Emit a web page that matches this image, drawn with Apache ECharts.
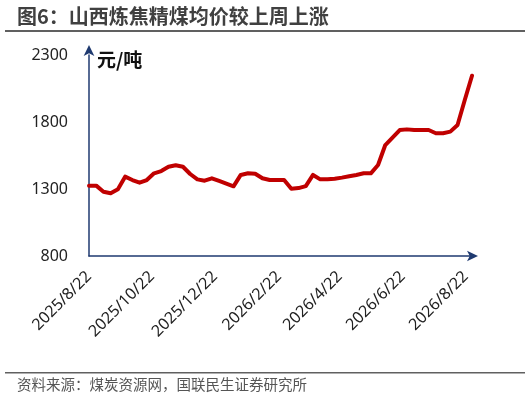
<!DOCTYPE html>
<html><head><meta charset="utf-8">
<script src="https://cdn.jsdelivr.net/npm/echarts@6/dist/echarts.min.js"></script>
<style>html,body{margin:0;padding:0;background:#fff}#c{width:532px;height:400px}</style>
</head><body><div id="c"></div>
<script>
const weekDates = ['2025/8/22','2025/8/29','2025/9/5','2025/9/12','2025/9/19','2025/9/26','2025/10/3','2025/10/10','2025/10/17','2025/10/24','2025/10/31','2025/11/7','2025/11/14','2025/11/21','2025/11/28','2025/12/5','2025/12/12','2025/12/19','2025/12/26','2026/1/2','2026/1/9','2026/1/16','2026/1/23','2026/1/30','2026/2/6','2026/2/13','2026/2/20','2026/2/27','2026/3/6','2026/3/13','2026/3/20','2026/3/27','2026/4/3','2026/4/10','2026/4/17','2026/4/24','2026/5/1','2026/5/8','2026/5/15','2026/5/22','2026/5/29','2026/6/5','2026/6/12','2026/6/19','2026/6/26','2026/7/3','2026/7/10','2026/7/17','2026/7/24','2026/7/31','2026/8/7','2026/8/14','2026/8/21','2026/8/28'];
const prices = [1325,1325,1280,1268,1298,1392,1367,1347,1367,1417,1434,1466,1477,1466,1412,1372,1362,1380,1360,1340,1320,1405,1417,1414,1380,1367,1367,1367,1302,1307,1322,1405,1372,1372,1377,1385,1395,1405,1417,1417,1479,1628,1683,1740,1745,1740,1740,1740,1716,1716,1728,1778,1964,2145];
const tickLabels = ['2025/8/22','2025/10/22','2025/12/22','2026/2/22','2026/4/22','2026/6/22','2026/8/22'];
const yTicks = [800,1300,1800,2300];

// daily category axis spanning the weekly data
function fmt(d){return d.getFullYear()+'/'+(d.getMonth()+1)+'/'+d.getDate();}
const days = [];
{
  const s = weekDates[0].split('/').map(Number), e = weekDates[weekDates.length-1].split('/').map(Number);
  const d = new Date(s[0], s[1]-1, s[2]); const end = new Date(e[0], e[1]-1, e[2]);
  while (d <= end) { days.push(fmt(d)); d.setDate(d.getDate()+1); }
}
const seriesData = weekDates.map((t,i)=>[t, prices[i]]);
const axisColor = '#1f3a70';
const numFont = '"Noto Sans","Noto Sans CJK SC",sans-serif';

const chart = echarts.init(document.getElementById('c'));
chart.setOption({
  animation:false,
  backgroundColor:'#fff',
  grid:{left:89,right:60,top:55,bottom:144},
  xAxis:{
    type:'category', data:days, boundaryGap:false,
    axisLine:{show:true,symbol:['none','arrow'],symbolSize:[8,11],symbolOffset:[0,6],lineStyle:{color:axisColor,width:1.5}},
    axisTick:{show:false},
    splitLine:{show:false},
    axisLabel:{
      interval:(idx,val)=>tickLabels.indexOf(val)>=0,
      rotate:45, margin:18, color:'#222', fontSize:16, fontFamily:numFont
    }
  },
  yAxis:{
    type:'value', min:yTicks[0], max:yTicks[yTicks.length-1], interval:500,
    axisLine:{show:true,symbol:['none','arrow'],symbolSize:[8,11],symbolOffset:[0,10],lineStyle:{color:axisColor,width:1.5}},
    axisTick:{show:false},
    splitLine:{show:false},
    axisLabel:{margin:21,color:'#222',fontSize:16,fontFamily:numFont,formatter:v=>String(v)}
  },
  series:[{
    type:'line', data:seriesData, showSymbol:false, symbol:'none',
    lineStyle:{color:'#c00000',width:4,join:'round',cap:'round'},
    z:3
  }],
  graphic:[
    {type:'text',left:17,top:6,style:{text:'图6：山西炼焦精煤均价较上周上涨',fill:'#404040',font:'bold 20px "Noto Sans CJK SC",sans-serif'}},
    {type:'rect',shape:{x:5,y:30,width:520,height:2},style:{fill:'#606060'}},
    {type:'text',left:97,top:50,style:{text:'元/吨',fill:'#111',font:'bold 19px "Noto Sans CJK SC",sans-serif'}},
    {type:'rect',shape:{x:5,y:372,width:520,height:1.5},style:{fill:'#606060'}},
    {type:'text',left:17,top:377,style:{text:'资料来源：煤炭资源网，国联民生证券研究所',fill:'#555',font:'14.5px "Noto Sans CJK SC",sans-serif'}}
  ]
});
</script></body></html>
